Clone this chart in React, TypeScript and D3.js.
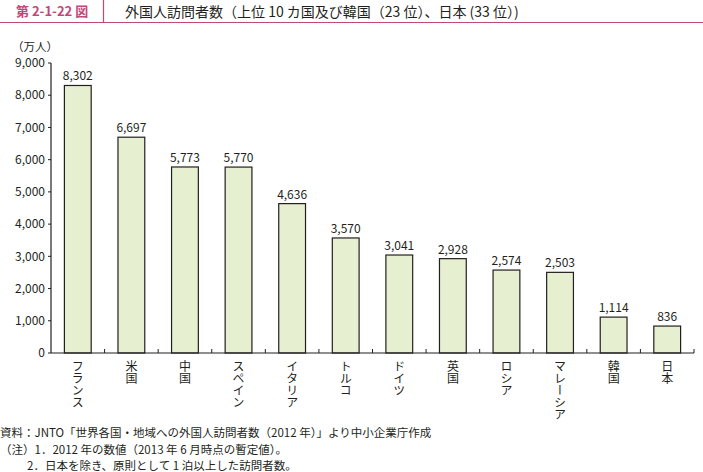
import React from "react";
import * as d3 from "d3";

const categories = ["フランス", "米国", "中国", "スペイン", "イタリア", "トルコ", "ドイツ", "英国", "ロシア", "マレーシア", "韓国", "日本"];
const values = [8302, 6697, 5773, 5770, 4636, 3570, 3041, 2928, 2574, 2503, 1114, 836];
const yTicks = [0, 1000, 2000, 3000, 4000, 5000, 6000, 7000, 8000, 9000];
const titleNo = "第 2-1-22 図";
const titleText = "外国人訪問者数（上位 10 カ国及び韓国（23 位）、日本 (33 位）)";
const yUnit = "（万人）";
const notes = [
  "資料：JNTO「世界各国・地域への外国人訪問者数（2012 年）」より中小企業庁作成",
  "（注）1．2012 年の数値（2013 年 6 月時点の暫定値）。",
  "2．日本を除き、原則として 1 泊以上した訪問者数。",
];

const W = 703, H = 472;
const FONT = "'Noto Sans CJK JP', 'Noto Sans', sans-serif";
const PINK = "#c4477a";
const INK = "#231f20";

export default function App() {
  const x = d3.scaleBand<string>().domain(categories).range([51, 694]).paddingInner(0.5).paddingOuter(0.25);
  const y = d3.scaleLinear().domain([0, 9000]).range([353, 63]);
  const fmt = d3.format(",");
  const step = x.step();
  const boundaries = categories.map((_, i) => 51 + step * (i + 1));

  return (
    <svg width={W} height={H} style={{ position: "absolute", left: 0, top: 0, fontFamily: FONT }}>
      <rect width={W} height={H} fill="#fff" />
      {/* title */}
      <line x1={0} x2={W} y1={22.5} y2={22.5} stroke={PINK} strokeWidth={1.2} />
      <line x1={103.5} x2={103.5} y1={0} y2={22.5} stroke={PINK} strokeWidth={1.2} />
      <text x={16} y={16} fontSize={13} fontWeight="bold" fill={PINK}>{titleNo}</text>
      <text x={125} y={16.5} fontSize={14} fill={INK}>{titleText}</text>

      {/* y unit */}
      <text x={12} y={51} fontSize={11.5} fill={INK}>{yUnit}</text>

      {/* y axis */}
      <line x1={51} x2={51} y1={y(9000)} y2={y(0)} stroke={INK} strokeWidth={1.2} />
      {yTicks.map((t) => (
        <g key={t}>
          <line x1={48} x2={51} y1={y(t)} y2={y(t)} stroke={INK} strokeWidth={1} />
          <text x={45} y={y(t)} dy="0.35em" textAnchor="end" fontSize={12} fill={INK}>{fmt(t)}</text>
        </g>
      ))}

      {/* bars */}
      {categories.map((c, i) => (
        <g key={c}>
          <rect x={x(c)} y={y(values[i])} width={x.bandwidth()} height={y(0) - y(values[i])} fill="#e6efcf" stroke={INK} strokeWidth={1.2} />
          <text x={(x(c) as number) + x.bandwidth() / 2} y={y(values[i]) - 5} textAnchor="middle" fontSize={12} fill={INK}>{fmt(values[i])}</text>
        </g>
      ))}

      {/* x axis */}
      <line x1={51} x2={694} y1={y(0)} y2={y(0)} stroke={INK} strokeWidth={1.2} />
      {boundaries.map((bx, i) => (
        <line key={i} x1={bx} x2={bx} y1={y(0)} y2={y(0) - 4} stroke={INK} strokeWidth={1} />
      ))}
      {categories.map((c) => (
        <text key={c} x={(x(c) as number) + x.bandwidth() / 2} y={360} fontSize={12} fill={INK}
          style={{ writingMode: "vertical-rl" as any }}>{c}</text>
      ))}

      {/* notes */}
      <text x={0} y={437} fontSize={11.5} fill={INK}>{notes[0]}</text>
      <text x={0} y={454} fontSize={11.5} fill={INK}>{notes[1]}</text>
      <text x={27} y={470} fontSize={11.5} fill={INK}>{notes[2]}</text>
    </svg>
  );
}
